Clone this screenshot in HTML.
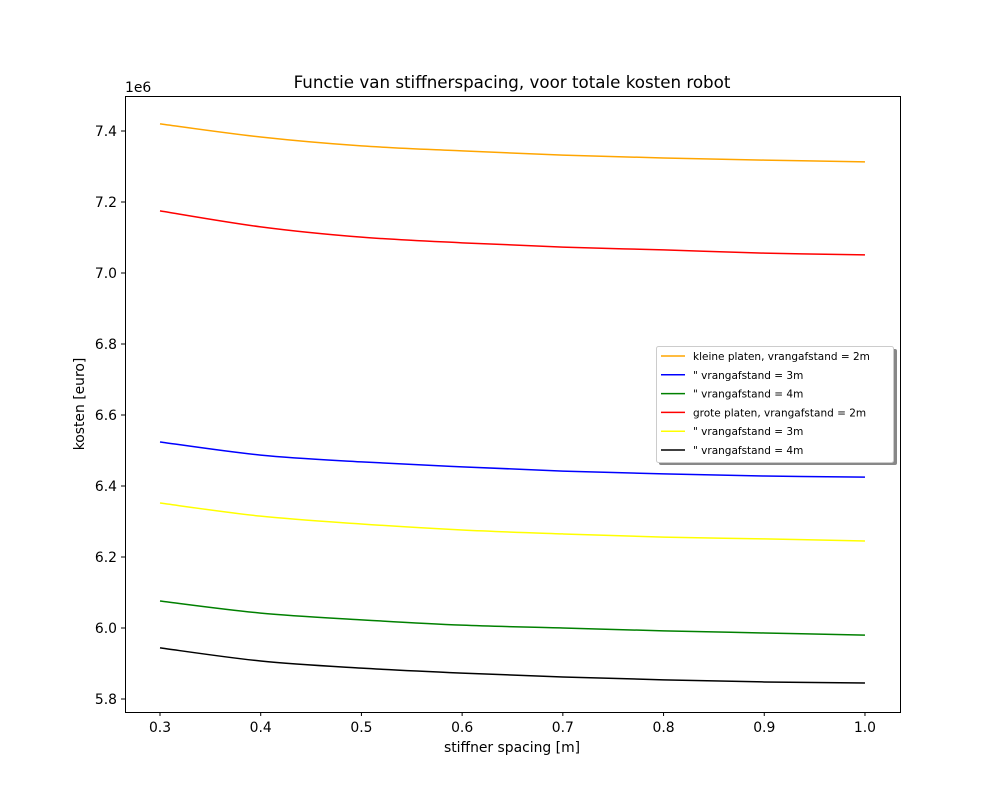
<!DOCTYPE html>
<html><head><meta charset="utf-8"><style>
body{margin:0;background:#fff}
svg text{font-family:"DejaVu Sans","Liberation Sans",sans-serif;fill:#000}
</style></head><body>
<svg id="chart" width="1000" height="800" xmlns="http://www.w3.org/2000/svg">
<rect width="1000" height="800" fill="#fff"/>
<text x="512" y="88" font-size="16.7" text-anchor="middle">Functie van stiffnerspacing, voor totale kosten robot</text>
<text x="512" y="752" font-size="13.9" text-anchor="middle">stiffner spacing [m]</text>
<text x="84" y="404" font-size="13.9" text-anchor="middle" transform="rotate(-90 84 404)">kosten [euro]</text>
<text x="125" y="92" font-size="13.9">1e6</text>
<g id="ticks"></g>
<g id="lines"></g>
<rect x="125.5" y="96.5" width="775" height="616" fill="none" stroke="#000" stroke-width="1"/>
<g id="legend"></g>
</svg>
<script>
const xs=[0.3,0.4,0.5,0.6,0.7,0.8,0.9,1.0];
const orange=[7.420,7.383,7.358,7.344,7.332,7.324,7.318,7.313];
const red=[7.175,7.130,7.101,7.085,7.073,7.065,7.056,7.051];
const blue=[6.524,6.487,6.468,6.454,6.442,6.434,6.428,6.425];
const yellow=[6.352,6.315,6.293,6.276,6.265,6.256,6.251,6.245];
const green=[6.076,6.042,6.023,6.008,6.000,5.992,5.986,5.980];
const black=[5.944,5.907,5.887,5.873,5.862,5.854,5.848,5.845];
const xTicks=[0.3,0.4,0.5,0.6,0.7,0.8,0.9,1.0];
const yTicks=[5.8,6.0,6.2,6.4,6.6,6.8,7.0,7.2,7.4];
const labels=["kleine platen, vrangafstand = 2m","\" vrangafstand = 3m","\" vrangafstand = 4m","grote platen, vrangafstand = 2m","\" vrangafstand = 3m","\" vrangafstand = 4m"];
const NS="http://www.w3.org/2000/svg";
const X=v=>160+(v-0.3)*1007.1;
const Y=v=>699-(v-5.8)*355;
function mk(t,a,p){const e=document.createElementNS(NS,t);for(const k in a)e.setAttribute(k,a[k]);p.appendChild(e);return e;}
const tg=document.getElementById('ticks');
xTicks.forEach(v=>{
 const l=mk('line',{x1:X(v),x2:X(v),y1:712,y2:716,stroke:'#000'},tg);
 
 
 const t=mk('text',{x:X(v),y:732,'font-size':13.9,'text-anchor':'middle'},tg);t.textContent=v.toFixed(1);
 
 
});
yTicks.forEach(v=>{
 const l=mk('line',{x1:121,x2:125,y1:Y(v),y2:Y(v),stroke:'#000'},tg);
 
 
 const t=mk('text',{x:117,y:Y(v)+5,'font-size':13.9,'text-anchor':'end'},tg);t.textContent=v.toFixed(1);
 
 
});
function pathD(ys){
 const p=xs.map((x,i)=>[X(x),Y(ys[i])]);
 let d='M'+p[0][0]+','+p[0][1];
 for(let i=0;i<p.length-1;i++){
  const p0=p[Math.max(0,i-1)],p1=p[i],p2=p[i+1],p3=p[Math.min(p.length-1,i+2)];
  const c1=[p1[0]+(p2[0]-p0[0])/6,p1[1]+(p2[1]-p0[1])/6];
  const c2=[p2[0]-(p3[0]-p1[0])/6,p2[1]-(p3[1]-p1[1])/6];
  d+=` C${c1[0]},${c1[1]} ${c2[0]},${c2[1]} ${p2[0]},${p2[1]}`;
 }
 return d;
}
const series=[[orange,'orange'],[blue,'blue'],[green,'green'],[red,'red'],[yellow,'yellow'],[black,'black']];
const lg=document.getElementById('lines');
series.forEach(([d,c],i)=>{
 const p=mk('path',{d:pathD(d),fill:'none',stroke:c,'stroke-width':1.5},lg);
 
 
});
const leg=document.getElementById('legend');
mk('rect',{x:659,y:349,width:238,height:116,fill:'#888',rx:2},leg);
mk('rect',{x:656.5,y:346.5,width:237,height:116,fill:'#fff',stroke:'#ccc',rx:2},leg);
series.forEach(([d,c],i)=>{
 const y=356+i*18.8;
 const l=mk('line',{x1:661,x2:685,y1:y,y2:y,stroke:c,'stroke-width':1.5},leg);
 
 
 const t=mk('text',{x:693,y:y+4,'font-size':10.5},leg);t.textContent=labels[i];
 
 
});
</script>
</body></html>
